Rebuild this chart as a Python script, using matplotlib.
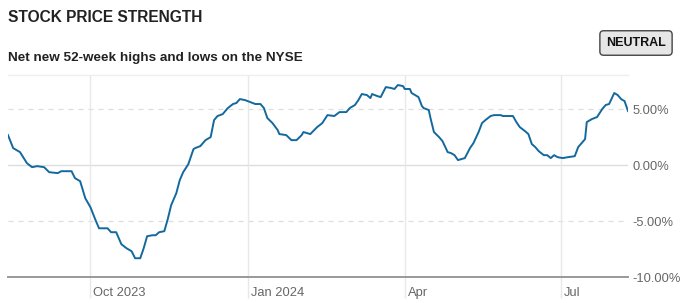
#!/usr/bin/env python3
"""Stock price strength: net new 52-week highs and lows on the NYSE."""

import matplotlib

matplotlib.use("Agg")
import matplotlib.pyplot as plt
import matplotlib.ticker as mticker
import matplotlib.transforms as mtransforms
import pandas as pd

plt.rcParams["font.family"] = ["Liberation Sans", "DejaVu Sans"]
plt.rcParams["axes.unicode_minus"] = False

DATES = [
    "2023-08-14", "2023-08-17", "2023-08-21", "2023-08-25", "2023-08-28", "2023-08-31",
    "2023-09-04", "2023-09-07", "2023-09-12", "2023-09-14", "2023-09-20", "2023-09-22",
    "2023-09-25", "2023-09-28", "2023-10-01", "2023-10-04", "2023-10-06", "2023-10-08",
    "2023-10-11", "2023-10-13", "2023-10-16", "2023-10-19", "2023-10-22", "2023-10-25",
    "2023-10-27", "2023-10-30", "2023-11-01", "2023-11-03", "2023-11-06", "2023-11-08",
    "2023-11-10", "2023-11-13", "2023-11-15", "2023-11-17", "2023-11-20", "2023-11-22",
    "2023-11-24", "2023-11-27", "2023-11-30", "2023-12-01", "2023-12-04", "2023-12-07",
    "2023-12-10", "2023-12-12", "2023-12-14", "2023-12-17", "2023-12-20", "2023-12-23",
    "2023-12-25", "2023-12-27", "2023-12-30", "2024-01-02", "2024-01-05", "2024-01-08",
    "2024-01-10", "2024-01-12", "2024-01-15", "2024-01-18", "2024-01-19", "2024-01-23",
    "2024-01-26", "2024-01-29", "2024-02-01", "2024-02-02", "2024-02-06", "2024-02-10",
    "2024-02-13", "2024-02-16", "2024-02-20", "2024-02-23", "2024-02-27", "2024-02-29",
    "2024-03-03", "2024-03-05", "2024-03-07", "2024-03-10", "2024-03-12", "2024-03-13",
    "2024-03-16", "2024-03-18", "2024-03-21", "2024-03-24", "2024-03-26", "2024-03-28",
    "2024-03-31", "2024-04-01", "2024-04-04", "2024-04-05", "2024-04-07", "2024-04-09",
    "2024-04-11", "2024-04-12", "2024-04-15", "2024-04-16", "2024-04-18", "2024-04-21",
    "2024-04-23", "2024-04-26", "2024-04-28", "2024-04-30", "2024-05-02", "2024-05-04",
    "2024-05-06", "2024-05-09", "2024-05-11", "2024-05-14", "2024-05-16", "2024-05-18",
    "2024-05-21", "2024-05-23", "2024-05-27", "2024-05-28", "2024-06-03", "2024-06-05",
    "2024-06-07", "2024-06-10", "2024-06-12", "2024-06-14", "2024-06-16", "2024-06-18",
    "2024-06-21", "2024-06-23", "2024-06-25", "2024-06-27", "2024-06-29", "2024-07-02",
    "2024-07-05", "2024-07-09", "2024-07-11", "2024-07-15", "2024-07-16", "2024-07-19",
    "2024-07-22", "2024-07-25", "2024-07-27", "2024-07-29", "2024-08-01", "2024-08-03",
    "2024-08-05", "2024-08-07", "2024-08-09",
]

NET_HIGHS_LOWS = [
    2.68, 1.52, 1.16, 0.18, -0.18, -0.09,
    -0.18, -0.63, -0.71, -0.54, -0.54, -1.16,
    -1.43, -2.95, -3.75, -4.91, -5.63, -5.63,
    -5.63, -5.98, -5.98, -7.05, -7.41, -7.68,
    -8.30, -8.30, -7.41, -6.34, -6.25, -6.25,
    -5.98, -5.89, -4.82, -3.57, -2.50, -1.34,
    -0.63, 0.09, 1.43, 1.52, 1.70, 2.23,
    2.50, 4.02, 4.38, 4.55, 5.09, 5.45,
    5.54, 5.89, 5.80, 5.63, 5.45, 5.45,
    5.09, 4.20, 3.75, 3.13, 2.77, 2.68,
    2.23, 2.23, 2.68, 2.95, 2.77, 3.39,
    3.75, 4.46, 4.38, 4.73, 4.73, 5.09,
    5.36, 5.80, 6.34, 6.25, 5.98, 6.34,
    6.16, 6.07, 6.96, 6.88, 6.79, 7.14,
    7.05, 6.79, 6.79, 6.43, 6.25, 6.07,
    5.27, 5.09, 4.91, 4.20, 2.95, 2.50,
    2.14, 1.16, 1.07, 0.89, 0.45, 0.54,
    0.63, 1.52, 1.96, 2.95, 3.75, 4.02,
    4.38, 4.46, 4.46, 4.38, 4.38, 3.84,
    3.39, 3.04, 2.77, 1.88, 1.61, 1.25,
    0.89, 0.89, 0.63, 0.89, 0.71, 0.63,
    0.71, 0.80, 1.61, 2.32, 3.84, 4.11,
    4.29, 5.00, 5.36, 5.45, 6.43, 6.25,
    5.89, 5.71, 4.82,
]

X_TICKS = ["2023-10-01", "2024-01-01", "2024-04-01", "2024-07-01"]
X_TICK_LABELS = ["Oct 2023", "Jan 2024", "Apr", "Jul"]
Y_TICKS = [-10, -5, 0, 5]

LINE_COLOR = "#13699e"
TEXT_GRAY = "#666666"


def main() -> None:
    dates = pd.to_datetime(DATES)

    fig = plt.figure(figsize=(6.95, 3.03), dpi=100)
    ax = fig.add_axes([8 / 695, 0.0848, 620 / 695, 0.6663])

    ax.plot(dates, NET_HIGHS_LOWS, color=LINE_COLOR, linewidth=1.4, solid_joinstyle="round", zorder=3)

    ax.set_xlim(dates[0], dates[-1])
    ax.set_ylim(-10, 8)

    # horizontal grid: solid at 0, dashed at +/-5, axis line at -10
    ax.axhline(0, color="#dddddd", linewidth=1.0, zorder=1)
    for y in (-5, 5):
        ax.axhline(y, color="#dddddd", linewidth=0.9, linestyle=(0, (4, 4)), zorder=1)

    for side in ("left", "right"):
        ax.spines[side].set_visible(False)
    ax.spines["top"].set_color("#eeeeee")
    ax.spines["top"].set_linewidth(1.0)
    ax.spines["bottom"].set_color("#999999")
    ax.spines["bottom"].set_linewidth(1.4)

    # x ticks: long light lines running through the plot and down past the axis
    tick_dates = pd.to_datetime(X_TICKS)
    ax.set_xticks(tick_dates)
    ax.set_xticklabels(X_TICK_LABELS)
    ax.xaxis.set_minor_locator(mticker.NullLocator())
    for d in tick_dates:
        ax.axvline(d, color="#e8e8e8", linewidth=1.0, zorder=1)
    ax.tick_params(axis="x", which="major", direction="out", length=15, width=1.0, color="#e8e8e8",
                   pad=-8, labelsize=9.3, labelcolor=TEXT_GRAY)
    ax.tick_params(axis="x", which="minor", length=0)
    offset = mtransforms.ScaledTranslation(3 / 100, 0, fig.dpi_scale_trans)
    for label in ax.get_xticklabels():
        label.set_horizontalalignment("left")
        label.set_transform(label.get_transform() + offset)

    ax.yaxis.tick_right()
    ax.set_yticks(Y_TICKS)
    ax.set_yticklabels([f"{v:.2f}%" for v in Y_TICKS])
    ax.tick_params(axis="y", length=0, pad=3.5, labelsize=9.3, labelcolor=TEXT_GRAY)

    fig.text(8 / 695, 1 - 17 / 303, "STOCK PRICE STRENGTH", fontsize=11.2, fontweight="bold",
             color="#222222", ha="left", va="center")
    fig.text(8 / 695, 1 - 58 / 303, "Net new 52-week highs and lows on the NYSE", fontsize=9.7,
             fontweight="bold", color="#222222", ha="left", va="center")
    fig.text(636 / 695, 1 - 43 / 303, "NEUTRAL", fontsize=9, fontweight="bold", color="#111111",
             ha="center", va="center",
             bbox=dict(boxstyle="round,pad=0.5,rounding_size=0.3", facecolor="#e6e6e6",
                       edgecolor="#444444", linewidth=1.0))

    fig.savefig("out.png", dpi=100, facecolor="white")
    plt.close(fig)


if __name__ == "__main__":
    main()
